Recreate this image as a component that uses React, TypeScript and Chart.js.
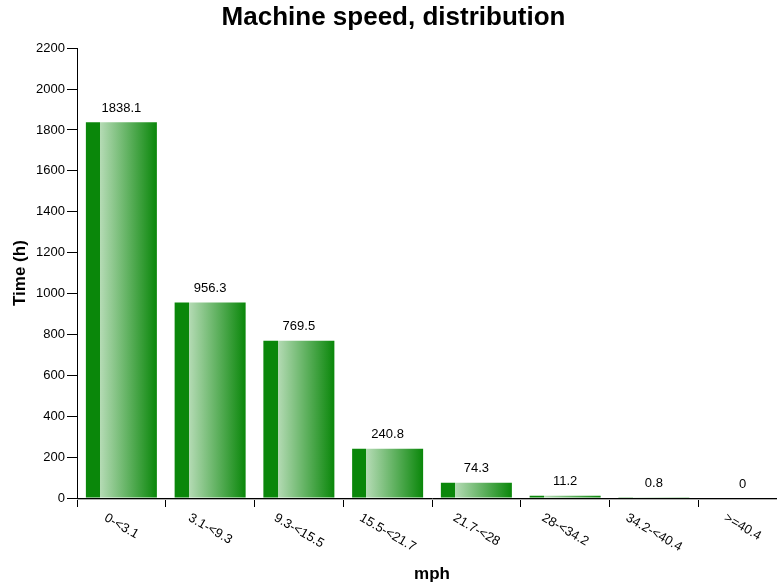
import React, { useEffect, useRef } from "react";
import { Chart, registerables } from "chart.js";

Chart.register(...registerables);

const categories = ["0-<3.1", "3.1-<9.3", "9.3-<15.5", "15.5-<21.7", "21.7-<28", "28-<34.2", "34.2-<40.4", ">=40.4"];
const hours = [1838.1, 956.3, 769.5, 240.8, 74.3, 11.2, 0.8, 0];
const valueLabels = ["1838.1", "956.3", "769.5", "240.8", "74.3", "11.2", "0.8", "0"];
const titleText = "Machine speed, distribution";
const yTitle = "Time (h)";
const xTitle = "mph";
const yMax = 2200;
const yStep = 200;

const FONT = "'Liberation Sans', Arial, sans-serif";

const overlayPlugin = {
  id: "overlay",
  afterDatasetsDraw(chart: any) {
    const ctx = chart.ctx;
    const xs = chart.scales.x;
    const ys = chart.scales.y;
    const area = chart.chartArea;
    ctx.save();
    // value labels
    ctx.fillStyle = "#000";
    ctx.font = `13px ${FONT}`;
    ctx.textAlign = "center";
    ctx.textBaseline = "middle";
    hours.forEach((v, i) => {
      const cx = xs.getPixelForValue(i);
      const top = ys.getPixelForValue(v);
      ctx.fillText(valueLabels[i], cx, top - 14);
    });
    // axis shadow
    ctx.strokeStyle = "#b0b0b0";
    ctx.lineWidth = 1;
    ctx.beginPath();
    ctx.moveTo(area.left, area.bottom + 1.5);
    ctx.lineTo(area.right, area.bottom + 1.5);
    ctx.stroke();
    // rotated category labels
    ctx.font = `13px ${FONT}`;
    ctx.textAlign = "left";
    ctx.textBaseline = "middle";
    const ang = (30 * Math.PI) / 180;
    categories.forEach((lab, i) => {
      const cx = xs.getPixelForValue(i);
      const w = ctx.measureText(lab).width;
      const sx = cx - (w * Math.cos(ang)) / 2;
      const sy = area.bottom + 19;
      ctx.save();
      ctx.translate(sx, sy);
      ctx.rotate(ang);
      ctx.fillText(lab, 0, 0);
      ctx.restore();
    });
    // x title
    ctx.font = `bold 17px ${FONT}`;
    ctx.textAlign = "center";
    ctx.textBaseline = "middle";
    ctx.fillText(xTitle, (area.left + area.right) / 2, 574);
    ctx.restore();
  },
};

export default function App() {
  const ref = useRef<HTMLCanvasElement>(null);
  useEffect(() => {
    document.body.style.margin = "0";
    document.body.style.overflow = "hidden";
    const canvas = ref.current!;
    const chart = new Chart(canvas, {
      type: "bar",
      data: {
        labels: categories,
        datasets: [
          {
            data: hours,
            backgroundColor: (c: any) => {
              const ch = c.chart;
              const xs = ch.scales?.x;
              if (!xs || c.dataIndex === undefined || !xs.width) return "#0a870a";
              const cw = xs.width / categories.length;
              const bw = cw * 0.8;
              const left = xs.getPixelForValue(c.dataIndex) - bw / 2;
              const g = ch.ctx.createLinearGradient(left, 0, left + bw, 0);
              g.addColorStop(0, "#0a870a");
              g.addColorStop(0.2, "#0a870a");
              g.addColorStop(0.2, "#b5dbb5");
              g.addColorStop(1, "#0a870a");
              return g;
            },
            borderWidth: 0,
            categoryPercentage: 0.8,
            barPercentage: 1,
          },
        ],
      },
      options: {
        responsive: false,
        animation: false,
        layout: { padding: { left: 0, right: 13, top: 0, bottom: 81 } },
        plugins: {
          legend: { display: false },
          tooltip: { enabled: false },
          title: {
            display: true,
            text: titleText,
            color: "#000",
            font: { family: FONT, size: 26, weight: "bold" },
            padding: { top: 2, bottom: 15 },
          },
        },
        scales: {
          x: {
            grid: { display: true, drawOnChartArea: false, drawTicks: true, tickLength: 9, color: "#000", offset: true },
            border: { display: true, color: "#000", width: 1 },
            ticks: { display: false },
          },
          y: {
            min: 0,
            max: yMax,
            afterFit: (s: any) => {
              s.width = 77;
            },
            ticks: {
              stepSize: yStep,
              color: "#000",
              padding: 2,
              font: { family: FONT, size: 13 },
              callback: (v: any) => String(v),
            },
            grid: { display: true, drawOnChartArea: false, drawTicks: true, tickLength: 10, color: "#000" },
            border: { display: true, color: "#000", width: 1 },
            title: {
              display: true,
              text: yTitle,
              color: "#000",
              font: { family: FONT, size: 17, weight: "bold" },
              padding: { top: 10, bottom: 0 },
            },
          },
        },
      },
      plugins: [overlayPlugin],
    });
    return () => chart.destroy();
  }, []);
  return <canvas ref={ref} width={800} height={588} style={{ display: "block", width: 800, height: 588 }} />;
}
